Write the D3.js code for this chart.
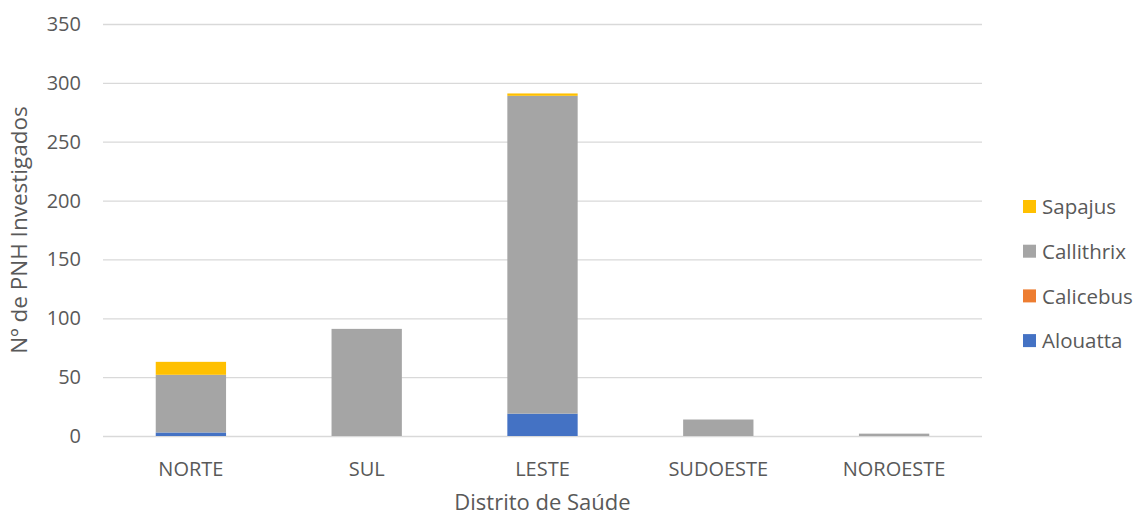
<!DOCTYPE html>
<html>
<head>
<meta charset="utf-8">
<script src="https://cdn.jsdelivr.net/npm/d3@7"></script>
<style>
  body { margin: 0; background: #fff; }
  text { font-family: "Open Sans", Lato, sans-serif; fill: #595959; }
</style>
</head>
<body>
<div id="chart"></div>
<script>
// data
const districts = ["NORTE", "SUL", "LESTE", "SUDOESTE", "NOROESTE"];
const alouatta = [3, 0, 19, 0, 0];
const calicebus = [0, 0, 0, 0, 0];
const callithrix = [49, 91, 270, 14, 2];
const sapajus = [11, 0, 2, 0, 0];
const yTicks = [0, 50, 100, 150, 200, 250, 300, 350];

const seriesNames = ["Alouatta", "Calicebus", "Callithrix", "Sapajus"];
const seriesColors = ["#4472C4", "#ED7D31", "#A5A5A5", "#FFC000"];

let width = 1143, height = 517;
let margin = {top: 24, right: 161, bottom: 81, left: 103};
let innerW = width - margin.left - margin.right;
let innerH = height - margin.top - margin.bottom;

let table = districts.map((d, i) => ({
    district: d,
    Alouatta: alouatta[i],
    Calicebus: calicebus[i],
    Callithrix: callithrix[i],
    Sapajus: sapajus[i]
}));

let stack = d3.stack().keys(seriesNames)(table);

let svg = d3.select("#chart").append("svg")
    .attr("width", width)
    .attr("height", height);

let g = svg.append("g")
    .attr("transform", "translate(" + margin.left + "," + margin.top + ")");

let x = d3.scaleBand()
    .domain(districts)
    .range([0, innerW])
    .paddingInner(0.6)
    .paddingOuter(0.3);

let y = d3.scaleLinear()
    .domain([0, 350])
    .range([innerH, 0]);

// gridlines
g.selectAll(".grid")
    .data(yTicks)
    .join("line")
    .attr("class", "grid")
    .attr("x1", 0)
    .attr("x2", innerW)
    .attr("y1", d => y(d) + 0.5)
    .attr("y2", d => y(d) + 0.5)
    .attr("stroke", "#D9D9D9")
    .attr("stroke-width", 1.3);

// y tick labels
g.selectAll(".ylab")
    .data(yTicks)
    .join("text")
    .attr("class", "ylab")
    .attr("x", -22)
    .attr("y", d => y(d))
    .attr("dy", "0.35em")
    .attr("text-anchor", "end")
    .style("font-size", "20px")
    .text(d => d);

// stacked bars
g.selectAll(".layer")
    .data(stack)
    .join("g")
    .attr("class", "layer")
    .attr("fill", (d, i) => seriesColors[i])
    .selectAll("rect")
    .data(d => d.map((v, i) => ({v: v, district: districts[i]})))
    .join("rect")
    .attr("x", d => x(d.district))
    .attr("width", x.bandwidth())
    .attr("y", d => y(d.v[1]))
    .attr("height", d => y(d.v[0]) - y(d.v[1]));

// x labels
g.selectAll(".xlab")
    .data(districts)
    .join("text")
    .attr("class", "xlab")
    .attr("x", d => x(d) + x.bandwidth() / 2)
    .attr("y", innerH + 40)
    .attr("text-anchor", "middle")
    .style("font-size", "20px")
    .text(d => d);

// axis titles
svg.append("text")
    .attr("x", margin.left + innerW / 2)
    .attr("y", 510)
    .attr("text-anchor", "middle")
    .style("font-size", "22px")
    .text("Distrito de Saúde");

svg.append("text")
    .attr("transform", "translate(27," + (margin.top + innerH / 2) + ") rotate(-90)")
    .attr("text-anchor", "middle")
    .style("font-size", "22.5px")
    .text("Nº de PNH Investigados");

// legend, top item is Sapajus
let legend = svg.append("g")
    .attr("transform", "translate(1023,200)");

let items = legend.selectAll(".item")
    .data(seriesNames.slice().reverse())
    .join("g")
    .attr("class", "item")
    .attr("transform", (d, i) => "translate(0," + i * 44.7 + ")");

items.append("rect")
    .attr("width", 13)
    .attr("height", 13)
    .attr("fill", d => seriesColors[seriesNames.indexOf(d)]);

items.append("text")
    .attr("x", 19)
    .attr("y", 7)
    .attr("dy", "0.35em")
    .style("font-size", "20.5px")
    .text(d => d);
</script>
</body>
</html>
